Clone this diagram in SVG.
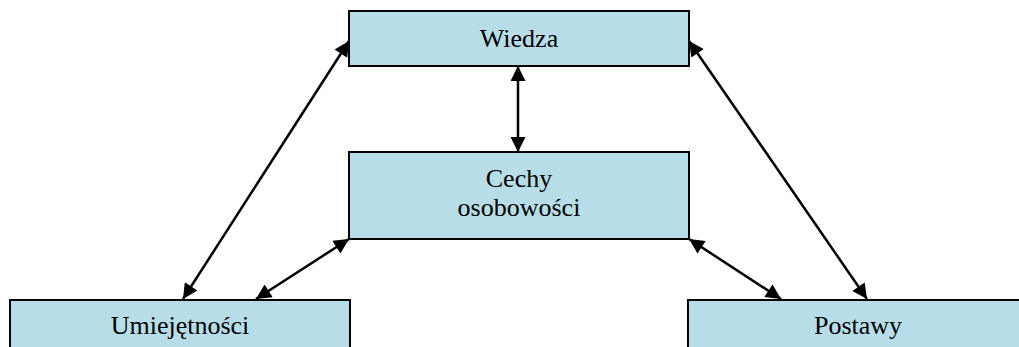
<svg xmlns="http://www.w3.org/2000/svg" width="1019" height="347" viewBox="0 0 1019 347">
  <style>
    .box { fill: #b7dde8; stroke: #000; stroke-width: 2; }
    .lbl { font-family: "Liberation Serif", "Times New Roman", serif; font-size: 26px; fill: #000; text-anchor: middle; }
    .link { stroke: #000; stroke-width: 2.5; fill: none; marker-start: url(#ah); marker-end: url(#ah); }
  </style>
  <defs>
    <marker id="ah" viewBox="0 0 10 10" refX="10" refY="5" markerWidth="7" markerHeight="6" markerUnits="strokeWidth" orient="auto-start-reverse">
      <path d="M0,0 L10,5 L0,10 Z" fill="#000"/>
    </marker>
  </defs>

  <rect width="1019" height="347" fill="#fff"/>

  <g id="connectors">
    <line class="link" x1="518" y1="66" x2="518" y2="152"/>
    <line class="link" x1="349" y1="41" x2="183" y2="299"/>
    <line class="link" x1="349" y1="239" x2="256" y2="299"/>
    <line class="link" x1="689" y1="239" x2="781" y2="299"/>
    <line class="link" x1="689" y1="41" x2="867" y2="299"/>
  </g>

  <g id="wiedza">
    <rect class="box" x="349" y="11" width="340" height="55"/>
    <text class="lbl" x="519" y="47">Wiedza</text>
  </g>

  <g id="cechy">
    <rect class="box" x="349" y="152" width="340" height="87"/>
    <text class="lbl" x="519" y="187">Cechy</text>
    <text class="lbl" x="519" y="216">osobowości</text>
  </g>

  <g id="umiejetnosci">
    <rect class="box" x="10" y="300" width="340" height="60"/>
    <text class="lbl" x="180" y="334">Umiejętności</text>
  </g>

  <g id="postawy">
    <rect class="box" x="688" y="300" width="340" height="60"/>
    <text class="lbl" x="858" y="334">Postawy</text>
  </g>
</svg>
